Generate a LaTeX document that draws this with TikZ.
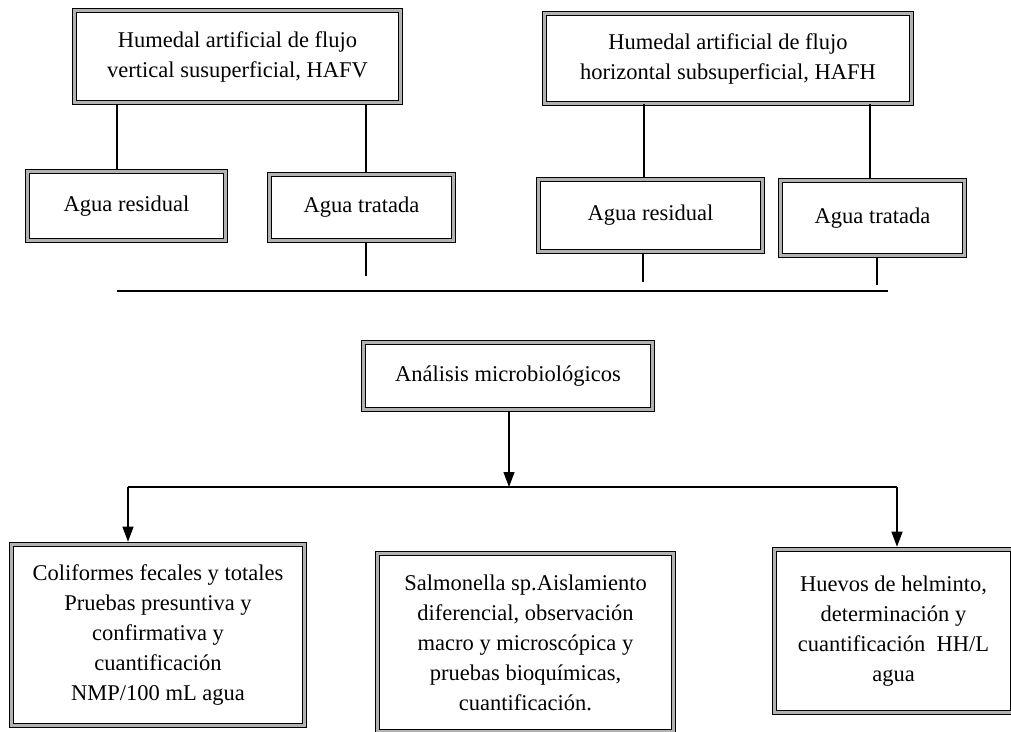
\documentclass[tikz,border=0pt]{standalone}
\usepackage{fontspec}
\setmainfont{Liberation Serif}
\usetikzlibrary{arrows.meta}
\begin{document}
\begin{tikzpicture}[x=1pt,y=-1pt,
  boxnode/.style={draw=black, line width=1.4pt, double=gray!60, double distance=2.8pt,
    fill=white, inner sep=0pt, outer sep=2.8pt, align=center,
    font=\fontsize{22.5}{30}\selectfont},
  link/.style={line width=1.2pt},
  arr/.style={line width=1.2pt, -{Triangle[length=15pt,width=11pt]}}]
\useasboundingbox (0,0) rectangle (1011,731);

% top boxes
\node[boxnode, minimum width=326pt, minimum height=92pt] (hafv) at (237.5,56.5)
  {Humedal artificial de flujo\\vertical susuperficial, HAFV};
\node[boxnode, minimum width=367pt, minimum height=90pt] (hafh) at (728,58.5)
  {Humedal artificial de flujo\\horizontal subsuperficial, HAFH};

% water boxes
\node[boxnode, minimum width=198pt, minimum height=69pt] (ar1) at (126.5,206) {Agua residual};
\node[boxnode, minimum width=184pt, minimum height=66pt] (at1) at (361.5,207.5) {Agua tratada};
\node[boxnode, minimum width=224pt, minimum height=72pt] (ar2) at (650.5,215.5) {Agua residual};
\node[boxnode, minimum width=184pt, minimum height=75pt] (at2) at (872.5,218) {Agua tratada};

% analysis
\node[boxnode, minimum width=289pt, minimum height=67pt] (anal) at (508,376) {Análisis microbiológicos};

% bottom boxes
\node[boxnode, minimum width=293pt, minimum height=181pt] (coli) at (158,635)
  {Coliformes fecales y totales\\Pruebas presuntiva y\\confirmativa y\\cuantificación\\NMP/100 mL agua};
\node[boxnode, minimum width=296pt, minimum height=178pt] (salm) at (525.5,642.5)
  {Salmonella sp.Aislamiento\\diferencial, observación\\macro y microscópica y\\pruebas bioquímicas,\\cuantificación.};
\node[boxnode, minimum width=238pt, minimum height=163pt] (huev) at (893.5,631)
  {Huevos de helminto,\\determinación y\\cuantificación\ \ HH/L\\agua};

% coordinates
\coordinate (s1) at (366,276);
\coordinate (s2) at (643,282);
\coordinate (s3) at (877,285);
\coordinate (h1) at (117,291);
\coordinate (h2) at (888,291);
\coordinate (b1) at (128,487);
\coordinate (b2) at (897,487);
\coordinate (bm) at (509,487);

% connectors top
\draw[link] (hafv.south -| 117,0) -- (ar1.north -| 117,0);
\draw[link] (hafv.south -| 366,0) -- (at1.north -| 366,0);
\draw[link] ([yshift=2pt]hafh.south -| 644,0) -- (ar2.north -| 644,0);
\draw[link] ([yshift=2pt]hafh.south -| 870,0) -- (at2.north -| 870,0);

% stubs
\draw[link] ([yshift=1pt]at1.south -| s1) -- (s1);
\draw[link] (ar2.south -| s2) -- (s2);
\draw[link] (at2.south -| s3) -- (s3);
\draw[link] (h1) -- (h2);

% analysis arrows
\draw[arr] (anal.south -| bm) -- (bm);
\draw[link] (b1) -- (b2);
\draw[arr] (b1) -- (coli.north -| b1);
\draw[arr] (b2) -- (huev.north -| b2);
\end{tikzpicture}
\end{document}
